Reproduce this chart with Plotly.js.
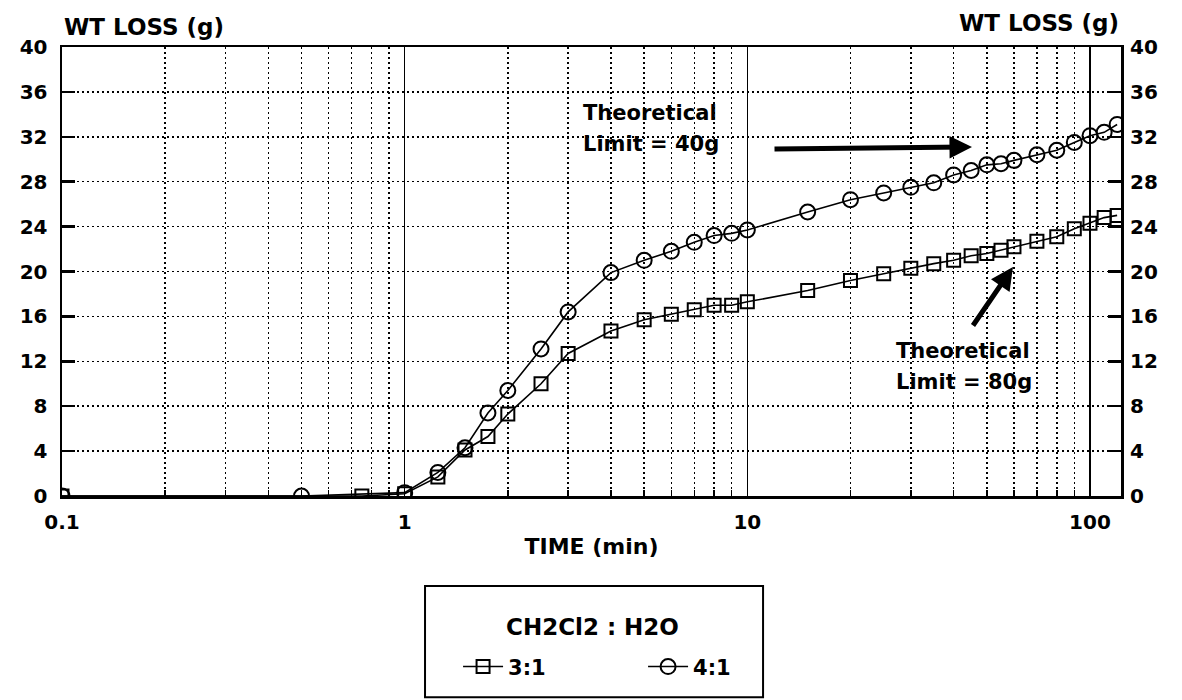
<!DOCTYPE html>
<html>
<head>
<meta charset="utf-8">
<script src="https://cdn.plot.ly/plotly-3.0.1.min.js"></script>
<style>
  html, body { margin: 0; padding: 0; background: #ffffff; }
  #chart { width: 1182px; height: 700px; }
</style>
</head>
<body>
<div id="chart"></div>
<script>
// ---- data ----
const time31 = [0.1, 0.75, 1, 1.25, 1.5, 1.75, 2, 2.5, 3, 4, 5, 6, 7, 8, 9, 10, 15, 20, 25, 30, 35, 40, 45, 50, 55, 60, 70, 80, 90, 100, 110, 120];
const loss31 = [0, 0, 0.2, 1.7, 4.1, 5.3, 7.3, 10.0, 12.7, 14.7, 15.7, 16.2, 16.6, 17.0, 17.0, 17.3, 18.3, 19.2, 19.8, 20.3, 20.7, 21.0, 21.4, 21.6, 21.9, 22.2, 22.7, 23.1, 23.8, 24.3, 24.8, 25.0];

const time41 = [0.1, 0.5, 1, 1.25, 1.5, 1.75, 2, 2.5, 3, 4, 5, 6, 7, 8, 9, 10, 15, 20, 25, 30, 35, 40, 45, 50, 55, 60, 70, 80, 90, 100, 110, 120];
const loss41 = [0, 0, 0.3, 2.1, 4.3, 7.4, 9.4, 13.1, 16.4, 19.9, 21.0, 21.8, 22.6, 23.2, 23.4, 23.7, 25.3, 26.4, 27.0, 27.5, 27.9, 28.6, 29.0, 29.5, 29.6, 29.9, 30.4, 30.8, 31.5, 32.1, 32.4, 33.1];

const seriesNames = ['3:1', '4:1'];
const legendTitle = 'CH2Cl2 : H2O';
const xMajorTicks = [0.1, 1, 10, 100];
const xMajorLabels = ['0.1', '1', '10', '100'];
const xMinorTicks = [0.2,0.3,0.4,0.5,0.6,0.7,0.8,0.9, 2,3,4,5,6,7,8,9, 20,30,40,50,60,70,80,90];
const yTicks = [0,4,8,12,16,20,24,28,32,36,40];
const yTitle = 'WT LOSS (g)';
const xTitle = 'TIME (min)';
const note40 = ['Theoretical', 'Limit = 40g'];
const note80 = ['Theoretical', 'Limit = 80g'];

// ---- styling ----
const FONT = 'DejaVu Sans';
const bold = (size) => ({ family: FONT, size: size, color: '#000', weight: 'bold' });

const traces = [
  {
    x: time31, y: loss31, name: seriesNames[0], type: 'scatter', mode: 'lines+markers',
    line: { color: '#000', width: 1.6 },
    marker: { symbol: 'square-open', size: 13, color: '#000', line: { width: 2, color: '#000' } },
    xaxis: 'x', yaxis: 'y'
  },
  {
    x: time41, y: loss41, name: seriesNames[1], type: 'scatter', mode: 'lines+markers',
    line: { color: '#000', width: 1.6 },
    marker: { symbol: 'circle-open', size: 15, color: '#000', line: { width: 2, color: '#000' } },
    xaxis: 'x', yaxis: 'y2'
  }
];

const layout = {
  width: 1182, height: 700,
  paper_bgcolor: '#fff', plot_bgcolor: '#fff',
  margin: { l: 62, r: 61, t: 47, b: 204 },
  font: bold(20),
  showlegend: true,
  legend: {
    orientation: 'h',
    x: 0.374, xanchor: 'left',
    y: -0.335, yanchor: 'top',
    bgcolor: 'rgba(0,0,0,0)', borderwidth: 0,
    font: bold(21),
    entrywidth: 130, entrywidthmode: 'pixels',
    itemwidth: 40
  },
  xaxis: {
    type: 'log',
    range: [-1, 2.0905],
    tickmode: 'array', tickvals: xMajorTicks, ticktext: xMajorLabels,
    ticks: '', showgrid: true, gridcolor: '#000', gridwidth: 1.5,
    showline: true, linecolor: '#000', linewidth: 2.5, mirror: true,
    tickfont: bold(20), ticklabelstandoff: 6,
    zeroline: false,
    title: { text: xTitle, font: bold(22), standoff: 6 },
    minor: {
      tickmode: 'array', tickvals: xMinorTicks,
      showgrid: true, gridcolor: '#000', gridwidth: 1.5, griddash: '2px,3px',
      ticks: 'inside', ticklen: 6, tickwidth: 1.5, tickcolor: '#000'
    },
    automargin: false
  },
  yaxis: {
    range: [0, 40],
    tickmode: 'array', tickvals: yTicks,
    ticks: 'inside', ticklen: 13, tickwidth: 2.5, tickcolor: '#000',
    showgrid: true, gridcolor: '#000', gridwidth: 1.5, griddash: '2px,3px',
    showline: true, linecolor: '#000', linewidth: 2.5, mirror: true,
    zeroline: false,
    tickfont: bold(20), ticklabelstandoff: 8,
    automargin: false
  },
  yaxis2: {
    range: [0, 40], overlaying: 'y', side: 'right',
    tickmode: 'array', tickvals: yTicks,
    ticks: 'inside', ticklen: 13, tickwidth: 2.5, tickcolor: '#000',
    showgrid: false, zeroline: false, showline: false,
    tickfont: bold(20), ticklabelstandoff: 8,
    automargin: false
  },
  shapes: [
    { type: 'rect', xref: 'paper', yref: 'paper', x0: 0.3428, x1: 0.6620, y0: -0.448, y1: -0.2004,
      line: { color: '#000', width: 2 }, fillcolor: 'rgba(0,0,0,0)' }
  ],
  annotations: [
    { text: legendTitle, xref: 'paper', yref: 'paper', x: 0.5014, y: -0.2918, xanchor: 'center', yanchor: 'middle', showarrow: false, font: bold(23) },
    { text: yTitle, xref: 'paper', yref: 'paper', x: 0.0, y: 1.0445, xanchor: 'left', yanchor: 'middle', showarrow: false, font: bold(23) },
    { text: yTitle, xref: 'paper', yref: 'paper', x: 1.0, y: 1.0534, xanchor: 'right', yanchor: 'middle', showarrow: false, font: bold(23) },
    { text: note40[0], xref: 'paper', yref: 'paper', x: 0.490, y: 0.853, xanchor: 'left', yanchor: 'middle', showarrow: false, font: bold(21) },
    { text: note40[1], xref: 'paper', yref: 'paper', x: 0.490, y: 0.784, xanchor: 'left', yanchor: 'middle', showarrow: false, font: bold(21) },
    { text: note80[0], xref: 'paper', yref: 'paper', x: 0.7856, y: 0.323, xanchor: 'left', yanchor: 'middle', showarrow: false, font: bold(21) },
    { text: note80[1], xref: 'paper', yref: 'paper', x: 0.7856, y: 0.254, xanchor: 'left', yanchor: 'middle', showarrow: false, font: bold(21) },
    { text: '', xref: 'paper', yref: 'paper', x: 0.8593, y: 0.7773, ax: -199, ay: 2,
      showarrow: true, arrowhead: 2, arrowsize: 0.9, arrowwidth: 5, arrowcolor: '#000', standoff: 0 },
    { text: '', xref: 'paper', yref: 'paper', x: 0.898, y: 0.510, ax: -41, ay: 60,
      showarrow: true, arrowhead: 2, arrowsize: 0.9, arrowwidth: 5, arrowcolor: '#000', standoff: 0 }
  ]
};

Plotly.newPlot('chart', traces, layout, { displayModeBar: false, staticPlot: true });
</script>
</body>
</html>
